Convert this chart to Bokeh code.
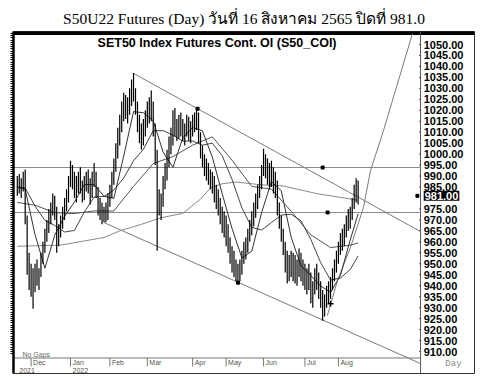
from bokeh.plotting import figure
from bokeh.models import Range1d, LinearAxis, FixedTicker, Label, ColumnDataSource
from bokeh.core.properties import value
from bokeh.embed import file_html
from bokeh.resources import INLINE

# ---------------- data ----------------
highs = [990, 991, 989, 992, 993, 972, 955, 950, 948, 950,
         952, 948, 955, 960, 966, 970, 975, 978, 982, 981,
         976, 968, 972, 976, 980, 984, 990, 997, 995, 992,
         990, 992, 994, 988, 990, 992, 993, 989, 992, 996,
         992, 985, 980, 978, 976, 978, 982, 986, 992, 998,
         1005, 1012, 1018, 1024, 1028, 1027, 1026, 1030, 1034, 1037,
         1030, 1024, 1018, 1014, 1016, 1020, 1024, 1026, 1029, 1024,
         1014, 1002, 984, 982, 990, 996, 1002, 1008, 1012, 1020,
         1021, 1016, 1018, 1019, 1016, 1014, 1018, 1017, 1015, 1018,
         1019, 1020.5, 1019, 1010, 1004, 1000, 998, 996, 993, 992,
         990, 986, 984, 980, 976, 974, 972, 968, 962, 958,
         956, 952, 950, 952, 956, 960, 962, 966, 970, 974,
         978, 982, 986, 990, 995, 1002.5, 1000, 998, 996, 997,
         994, 992, 988, 978, 972, 966, 960, 956, 954, 956,
         955, 954, 952, 957, 955, 952, 950, 948, 950, 946,
         942, 948, 950, 946, 942, 938, 936, 940, 942, 944,
         948, 952, 956, 960, 964, 966, 968, 972, 975, 976,
         980, 986, 989, 988]
lows = [981, 982, 980, 983, 968, 945, 938, 935, 929.5, 937,
        940, 938, 944, 950, 955, 960, 964, 968, 972, 970,
        955, 958, 962, 966, 970, 974, 978, 985, 984, 980,
        978, 982, 982, 978, 979, 983, 982, 977, 980, 985,
        980, 972, 970, 968, 969, 969, 970, 976, 980, 986,
        992, 998, 1004, 1010, 1015, 1016, 1014, 1018, 1022, 1024,
        1018, 1010, 1005, 1002, 1004, 1008, 1012, 1014, 1015, 1008,
        995, 956, 972, 970, 976, 984, 988, 994, 1000, 1004,
        1008, 1006, 1007, 1008, 1006, 1004, 1008, 1006, 1005, 1008,
        1010, 1011, 1005, 998, 994, 990, 988, 986, 984, 982,
        978, 975, 972, 968, 964, 962, 958, 955, 950, 946,
        944, 942, 941.4, 942, 945, 950, 952, 955, 960, 963,
        967, 971, 975, 980, 984, 990, 989, 986, 984, 985,
        982, 980, 972, 966, 960, 954, 946, 941, 942, 944,
        942, 941, 940, 944, 942, 940, 938, 936, 938, 932,
        930, 936, 938, 934, 930, 924, 926, 930, 932, 934,
        938, 942, 946, 950, 954, 956, 958, 962, 965, 966,
        970, 975, 978, 977]
closes = [986, 984, 987, 988, 970, 950, 945, 940, 938, 945,
          942, 946, 953, 958, 963, 968, 972, 976, 979, 973,
          962, 965, 970, 974, 978, 982, 988, 993, 986, 983,
          987, 989, 985, 981, 987, 988, 984, 980, 989, 991,
          982, 976, 974, 971, 973, 975, 979, 984, 989, 995,
          1002, 1008, 1015, 1020, 1024, 1019, 1023, 1027, 1030, 1026,
          1021, 1013, 1008, 1010, 1012, 1016, 1020, 1018, 1022, 1012,
          998, 982, 975, 979, 988, 992, 998, 1004, 1008, 1016,
          1012, 1010, 1014, 1011, 1009, 1012, 1015, 1010, 1013, 1016,
          1014, 1018, 1008, 1002, 998, 994, 991, 989, 987, 985,
          981, 979, 976, 971, 967, 965, 961, 958, 953, 950,
          948, 946, 944, 949, 953, 957, 959, 963, 967, 971,
          975, 979, 983, 987, 992, 996, 993, 990, 992, 988,
          985, 983, 975, 968, 963, 957, 949, 945, 950, 947,
          951, 944, 948, 953, 946, 943, 941, 944, 942, 935,
          938, 945, 941, 937, 933, 929, 933, 938, 935, 941,
          946, 950, 954, 958, 962, 961, 966, 970, 968, 974,
          978, 983, 985, 981]
days = list(range(len(closes)))

month_idx = [7, 27, 47, 66, 89, 106, 125, 146, 163]
month_names = ["Dec", "Jan", "Feb", "Mar", "Apr", "May", "Jun", "Jul", "Aug"]
year_idx = [0, 27]
year_names = ["2021", "2022"]
unit_text = "Day"

price_ticks = [910, 915, 920, 925, 930, 935, 940, 945, 950, 955, 960, 965, 970,
               975, 985, 990, 995, 1000, 1005, 1010, 1015, 1020, 1025, 1030,
               1035, 1040, 1045, 1050]
last_close = 981.0

ma10_x = [0, 4, 9, 14, 19, 24, 29, 34, 39, 44, 49, 54, 59, 64, 69, 74, 79, 84,
          89, 94, 99, 104, 109, 114, 119, 124, 129, 134, 139, 144, 149, 154,
          159, 164, 169, 173]
ma10_y = [985, 984, 963.3, 948, 963, 971.7, 978.1, 986.1, 986.1, 980.8, 979.8,
          999.1, 1019.4, 1018.9, 1015.2, 1001, 994, 1007.4, 1012.2, 1010.6,
          998.6, 982, 966.1, 952.7, 955.7, 973.3, 987.5, 983.3, 962.2, 949,
          944.7, 939.9, 937, 944.6, 960.9, 972.8]
ma25_x = ma10_x
ma25_y = [985, 984.6, 976.3, 969.8, 967.5, 964.5, 965.2, 973.6, 980.4, 980.7,
          983.6, 989.1, 997, 1002.2, 1010.7, 1010.7, 1008.7, 1005.9, 1006,
          1004.1, 1005, 999.3, 988.5, 975.5, 966.6, 965.4, 968.8, 972.2, 972.6,
          969.6, 961.1, 950.5, 942.6, 943.5, 947.4, 953.6]
ma50_x = [0, 9, 19, 29, 39, 49, 59, 69, 79, 89, 99, 109, 119, 129, 139, 149,
          159, 169, 173]
ma50_y = [978, 976.7, 973.3, 972.9, 974.1, 974.1, 985.3, 995.7, 998.9, 1004.1,
          1007.9, 997.2, 985.3, 984, 974, 963.2, 957.4, 958.5, 959.5]
ma200_x = [0, 22, 44, 52, 63, 73, 84, 93, 98, 104, 111, 124, 135, 152, 173]
ma200_y = [958, 958.5, 962, 965, 968, 971, 973, 979.5, 984.5, 986.5, 987.3,
           986, 985.5, 982, 979]

upper_x = [59, 204.7]
upper_y = [1036.8, 964.7]
lower_x = [44, 204.7]
lower_y = [968.8, 904.5]
curve_x = [157.4, 162.5, 169.1, 175.7, 179.3, 185.9, 200.6]
curve_y = [926.4, 942.3, 957.4, 975.6, 992.5, 1010.8, 1055]
h_levels = [993.9, 973.4]
dot_x = [91.5, 112, 155, 157.5, 203.1]
dot_y = [1020.7, 941.4, 993.9, 973.4, 981]
plus_x = [159]
plus_y = [931.8]

# ---------------- layout constants (chart units) ----------------
X_LO, X_HI = -1.93, 232.08        # whole box, day units
PRICE_END = 204.7                 # right edge of the price pane
LABEL_X = 206.3                   # left of the price labels
Y_LO, Y_HI = 899.97, 1055.93      # whole box, price units
AXIS_Y = 907.04                   # time axis line
MONTH_Y = 904.98                  # month label row
SEP_BOTTOM = 903.16               # bottom of month separators
YEAR_Y = 901.34                   # year label row
DAY_X, DAY_Y = 221.4, 904.3

p = figure(width=483, height=377, x_range=Range1d(X_LO, X_HI),
           y_range=Range1d(Y_LO, Y_HI), output_backend="svg",
           toolbar_location=None, x_axis_location=None, y_axis_location=None,
           min_border_left=13, min_border_right=9, min_border_top=31,
           min_border_bottom=4)
p.title.text = "S50U22 Futures (Day) วันที่ 16 สิงหาคม 2565 ปิดที่ 981.0"
p.title.align = "center"
p.title.text_font = "Liberation Serif"
p.title.text_font_style = "normal"
p.title.text_font_size = "15.5px"
p.title.text_color = "black"
p.title.standoff = 9
p.grid.visible = False
p.outline_line_color = "#333"
p.outline_line_width = 1
p.background_fill_color = "white"
p.border_fill_color = "white"

# left price axis: thick line with fine ticks
la = LinearAxis(ticker=FixedTicker(ticks=[], minor_ticks=list(range(909, 1056))),
                minor_tick_out=3, minor_tick_in=0, major_tick_out=0,
                major_tick_in=0, axis_line_width=2.5, minor_tick_line_width=1)
p.add_layout(la, "left")

# top thick border
p.line([X_LO, X_HI], [Y_HI, Y_HI], line_color="black", line_width=7)
# price pane right edge with ticks and labels
p.line([PRICE_END, PRICE_END], [Y_LO, Y_HI], line_color="#555", line_width=1)
p.segment(x0=[PRICE_END - 0.8] * len(price_ticks), y0=price_ticks,
          x1=[PRICE_END] * len(price_ticks), y1=price_ticks,
          line_color="#555", line_width=1)
lab_src = ColumnDataSource(dict(x=[LABEL_X] * len(price_ticks), y=price_ticks,
                                t=[f"{v:.2f}" for v in price_ticks]))
p.text(x="x", y="y", text="t", source=lab_src, text_align="left",
       text_baseline="middle", text_font=value("Liberation Sans"),
       text_font_style="bold", text_font_size="11px", text_color="black")

# time axis line, month separators and labels
p.line([X_LO, PRICE_END], [AXIS_Y, AXIS_Y], line_color="#777", line_width=1)
p.segment(x0=month_idx, y0=[AXIS_Y] * len(month_idx), x1=month_idx,
          y1=[SEP_BOTTOM] * len(month_idx), line_color="#777", line_width=1)
p.text(x=month_idx, y=[MONTH_Y] * len(month_idx), text=month_names,
       x_offset=2, text_align="left", text_baseline="middle",
       text_font=value("Liberation Sans"), text_font_size="7px",
       text_color="#555")
p.text(x=year_idx, y=[YEAR_Y] * len(year_idx), text=year_names,
       x_offset=2, text_align="left", text_baseline="middle",
       text_font=value("Liberation Sans"), text_font_size="7px",
       text_color="#555")
p.text(x=[DAY_X], y=[DAY_Y], text=[unit_text], text_align="center",
       text_baseline="middle", text_font=value("Liberation Mono"),
       text_font_size="9px", text_color="#888")

# guide lines
for h in h_levels:
    p.line([X_LO, PRICE_END], [h, h], line_color="#8a8a8a", line_width=1)
p.line(upper_x, upper_y, line_color="#7a7a7a", line_width=1)
p.line(lower_x, lower_y, line_color="#7a7a7a", line_width=1)
p.line(curve_x, curve_y, line_color="#7a7a7a", line_width=1)

# moving averages
p.line(ma200_x, ma200_y, line_color="#8a8a8a", line_width=1)
p.line(ma50_x, ma50_y, line_color="#555", line_width=1)
p.line(ma25_x, ma25_y, line_color="#444", line_width=1)
p.line(ma10_x, ma10_y, line_color="#333", line_width=1)

# price bars
p.segment(days, lows, days, highs, line_color="black", line_width=1.2)
p.scatter(dot_x, dot_y, marker="square", size=3, color="black")
p.scatter(plus_x, plus_y, marker="cross", size=6, color="black", line_width=1.5)

p.add_layout(Label(x=101.4, y=1050.46,
                   text="SET50 Index Futures Cont. OI (S50_COI)",
                   text_align="center", text_baseline="middle",
                   text_font="Liberation Sans", text_font_style="bold",
                   text_font_size="12.5px", text_color="black"))
p.add_layout(Label(x=2.6, y=908.63, text="No Gaps",
                   text_font="Liberation Sans", text_font_size="7px",
                   text_color="#666", text_baseline="middle"))
p.add_layout(Label(x=LABEL_X, y=last_close, text=f"{last_close:.2f}",
                   text_font="Liberation Sans", text_font_style="bold",
                   text_font_size="11px", text_color="white",
                   text_baseline="middle", background_fill_color="black",
                   background_fill_alpha=1, padding=1))

open("out.html", "w").write(file_html(p, INLINE))
